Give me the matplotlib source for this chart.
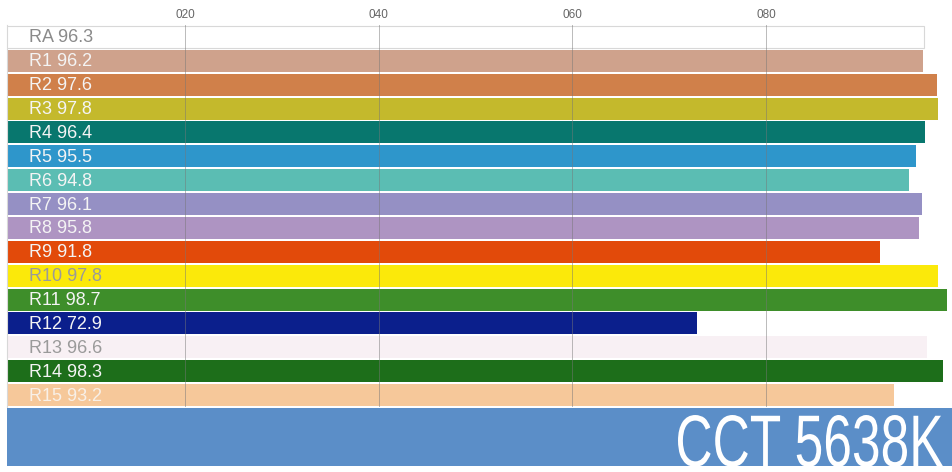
import numpy as np
import matplotlib.pyplot as plt
from matplotlib.textpath import TextPath
from matplotlib.patches import PathPatch
from matplotlib.font_manager import FontProperties
from matplotlib.transforms import Affine2D

names = ['RA', 'R1', 'R2', 'R3', 'R4', 'R5', 'R6', 'R7', 'R8', 'R9',
         'R10', 'R11', 'R12', 'R13', 'R14', 'R15']
values = [96.3, 96.2, 97.6, 97.8, 96.4, 95.5, 94.8, 96.1, 95.8, 91.8,
          97.8, 98.7, 72.9, 96.6, 98.3, 93.2]
colors = ['#ffffff', '#cfa28c', '#d0804a', '#c4b92c', '#08776e', '#2e96cb',
          '#5bbdb3', '#9590c4', '#ae94c2', '#e24a0a', '#fbe90a', '#3e8e2a',
          '#0b1f8c', '#f8f0f4', '#1d6e1a', '#f6c89a']
text_colors = ['#8a8a8a', '#f4f4f4', '#f4f4f4', '#f4f4f4', '#f4f4f4', '#f4f4f4',
               '#f4f4f4', '#f4f4f4', '#f4f4f4', '#f4f4f4', '#9a9a9a', '#f4f4f4',
               '#f4f4f4', '#9a9a9a', '#f4f4f4', '#f8f0e8']
ticks = [20, 40, 60, 80]
tick_labels = ['020', '040', '060', '080']
cct = 5638

font = ['Liberation Sans', 'DejaVu Sans']

fig = plt.figure(figsize=(9.52, 4.72), dpi=100)
W, H = 952, 472
ax = fig.add_axes([7 / W, 1 - 407 / H, 945 / W, 382 / H])

y = np.arange(len(names))
bars = ax.barh(y, values, height=0.92, color=colors, zorder=2)
bars[0].set_edgecolor('#d8d8d8')
bars[0].set_linewidth(0.8)

for i, (n, v) in enumerate(zip(names, values)):
    ax.text(0.023, i + 0.04, f'{n} {v}', transform=ax.get_yaxis_transform(),
            ha='left', va='center', fontsize=13, color=text_colors[i],
            family=font, zorder=4)

ax.set_xlim(1.6, 99.2)
ax.set_ylim(len(names) - 0.5, -0.5)
ax.set_yticks([])
ax.xaxis.tick_top()
ax.set_xticks(ticks)
ax.set_xticklabels(tick_labels, fontsize=8.5, color='#666666', family=font)
ax.tick_params(axis='x', length=0, pad=3)
for t in ticks:
    ax.axvline(t, color='#777777', lw=0.7, alpha=0.5, zorder=3)
for s in ['right', 'bottom', 'top']:
    ax.spines[s].set_visible(False)
ax.spines['left'].set_color('#d8d8d8')

# CCT band, axes in pixel units
bx = fig.add_axes([7 / W, 1 - 466 / H, 945 / W, 58 / H])
bx.set_facecolor('#5b8ec8')
bx.set_xlim(0, 945)
bx.set_ylim(0, 58)
bx.set_xticks([])
bx.set_yticks([])
for s in bx.spines.values():
    s.set_visible(False)
tp = TextPath((0, 0), f'CCT {cct}K', size=50,
              prop=FontProperties(family='Liberation Sans'))
ext = tp.get_extents()
x0, x1, y0, y1 = 671, 936, -1, 51
tr = Affine2D().translate(-ext.x0, -ext.y0).scale(
    (x1 - x0) / ext.width, (y1 - y0) / ext.height).translate(x0, y0)
bx.add_patch(PathPatch(tr.transform_path(tp), facecolor='white',
                       edgecolor='none', clip_on=False))

fig.savefig('out.png')
